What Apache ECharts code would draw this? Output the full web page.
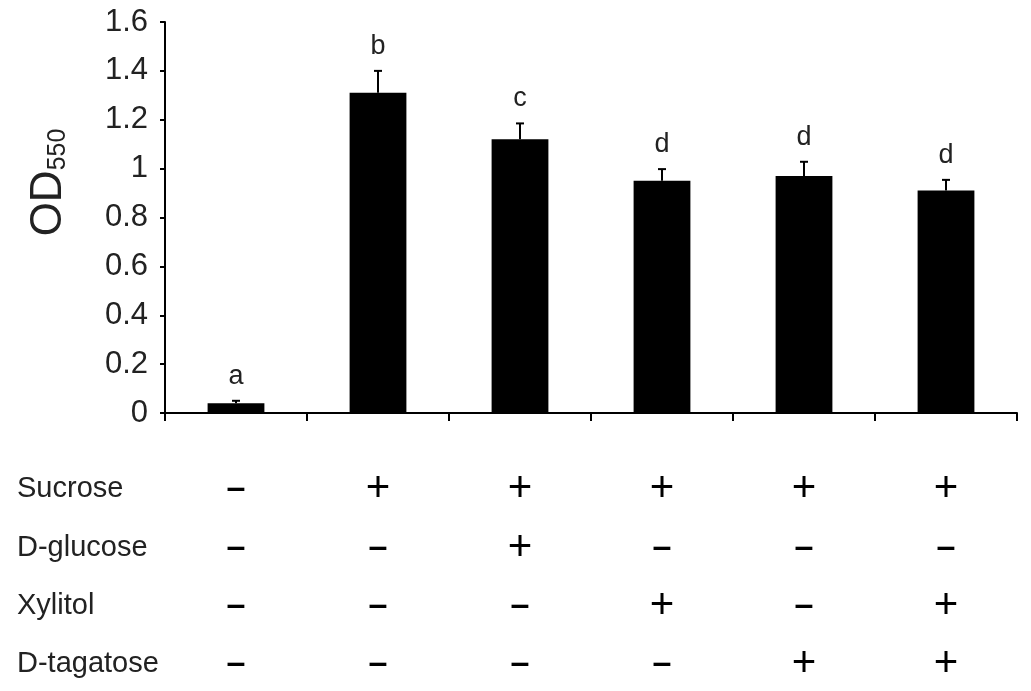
<!DOCTYPE html>
<html>
<head>
<meta charset="utf-8">
<script src="https://cdn.jsdelivr.net/npm/echarts@6/dist/echarts.min.js"></script>
<style>
  html, body { margin: 0; padding: 0; background: #fff; }
  #chart { width: 1031px; height: 691px; }
</style>
</head>
<body>
<div id="chart"></div>
<script>
// groups, left to right
const categories = ['Control', 'Sucrose', 'Sucrose + D-glucose', 'Sucrose + xylitol', 'Sucrose + D-tagatose', 'Sucrose + xylitol + D-tagatose']
const od550 = [0.04, 1.31, 1.12, 0.95, 0.97, 0.91]
const errUp = [0.01, 0.09, 0.065, 0.048, 0.058, 0.044]
const letters = ['a', 'b', 'c', 'd', 'd', 'd']
const yTicks = [0, 0.2, 0.4, 0.6, 0.8, 1, 1.2, 1.4, 1.6]

// treatment table under the axis
const rowNames = ['Sucrose', 'D-glucose', 'Xylitol', 'D-tagatose']
const sucrose = ['-', '+', '+', '+', '+', '+']
const glucose = ['-', '-', '+', '-', '-', '-']
const xylitol = ['-', '-', '-', '+', '-', '+']
const tagatose = ['-', '-', '-', '-', '+', '+']
const rows = [sucrose, glucose, xylitol, tagatose]
const rowOffsets = [76, 135, 193, 251]

const txt = '#222'
const font = 'Liberation Sans, Arial, sans-serif'

const chart = echarts.init(document.getElementById('chart'))

const signAxes = rows.map((signs, i) => ({
  type: 'category',
  data: categories,
  position: 'bottom',
  offset: rowOffsets[i],
  axisLine: { show: false },
  axisTick: { show: false },
  axisLabel: {
    interval: 0,
    margin: 0,
    verticalAlign: 'middle',
    formatter: (v, idx) => signs[idx] === '+' ? '{p|+}' : '{m|–}',
    rich: {
      p: { fontSize: 42, color: '#000', fontFamily: font },
      m: { fontSize: 34, fontWeight: 'bold', color: '#000', fontFamily: font },
    },
  },
  name: rowNames[i],
  nameLocation: 'start',
  nameGap: 148,
  nameTextStyle: {
    align: 'left',
    verticalAlign: 'middle',
    fontSize: 29,
    color: txt,
    fontFamily: font,
  },
}))

const option = {
  animation: false,
  backgroundColor: '#fff',
  grid: { left: 165, right: 14, top: 22, bottom: 278 },
  xAxis: [{
    type: 'category',
    data: categories,
    axisLine: { lineStyle: { color: '#000', width: 2 } },
    axisTick: { show: true, interval: 0, length: 8, lineStyle: { color: '#000', width: 2 } },
    axisLabel: { show: false },
  }].concat(signAxes),
  yAxis: {
    type: 'value',
    min: 0,
    max: 1.6,
    interval: 0.2,
    axisLine: { show: true, lineStyle: { color: '#000', width: 2 } },
    axisTick: { show: true, length: 5, lineStyle: { color: '#000', width: 2 } },
    splitLine: { show: false },
    axisLabel: {
      margin: 17,
      fontSize: 31,
      color: txt,
      fontFamily: font,
      formatter: v => String(yTicks.find(t => Math.abs(t - v) < 1e-6) ?? v),
    },
    name: '{a|OD}{b|550}',
    nameLocation: 'middle',
    nameGap: 94,
    nameRotate: 90,
    nameTextStyle: {
      color: txt,
      fontFamily: font,
      padding: [0, 0, 0, 70],
      rich: {
        a: { fontSize: 44, color: txt, fontFamily: font },
        b: { fontSize: 25, color: txt, fontFamily: font, verticalAlign: 'bottom' },
      },
    },
  },
  series: [
    {
      type: 'bar',
      data: od550,
      barWidth: '40%',
      itemStyle: { color: '#000' },
      z: 2,
    },
    {
      type: 'custom',
      data: od550.map((v, i) => [i, v, v + errUp[i]]),
      z: 3,
      renderItem: (params, api) => {
        const base = api.coord([api.value(0), api.value(1)])
        const top = api.coord([api.value(0), api.value(2)])
        const i = params.dataIndex
        return {
          type: 'group',
          children: [
            {
              type: 'line',
              shape: { x1: base[0], y1: base[1], x2: top[0], y2: top[1] },
              style: { stroke: '#000', lineWidth: 2 },
            },
            {
              type: 'line',
              shape: { x1: top[0] - 4, y1: top[1], x2: top[0] + 4, y2: top[1] },
              style: { stroke: '#000', lineWidth: 2 },
            },
            {
              type: 'text',
              x: top[0],
              y: top[1] - 11,
              style: {
                text: letters[i],
                fill: txt,
                fontSize: 27,
                fontFamily: font,
                align: 'center',
                verticalAlign: 'bottom',
              },
            },
          ],
        }
      },
    },
  ],
}

chart.setOption(option)
</script>
</body>
</html>
